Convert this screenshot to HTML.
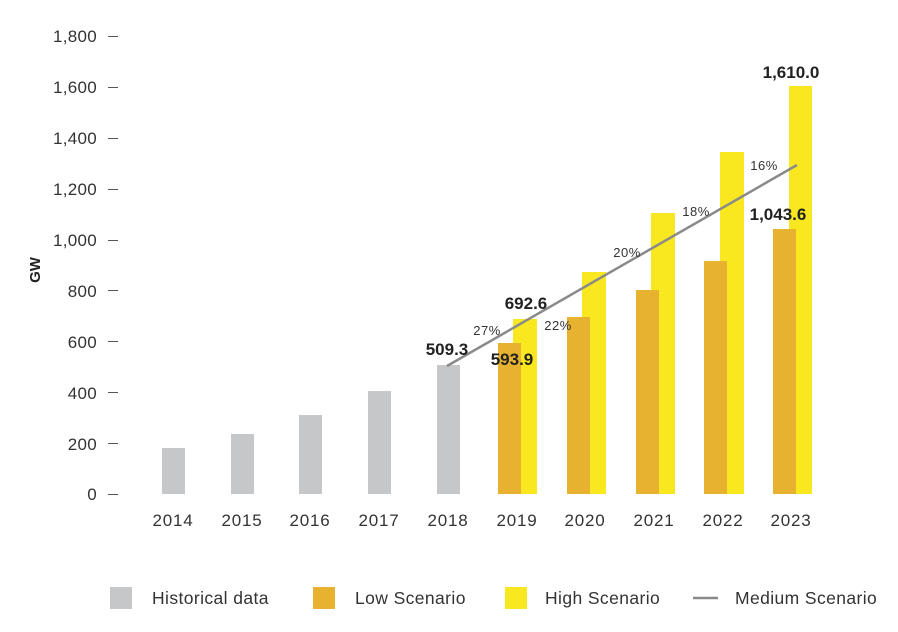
<!DOCTYPE html>
<html><head><style>body{margin:0;background:#fff}svg{display:block}text{font-family:"Liberation Sans",sans-serif}</style></head><body>
<svg width="898" height="632" viewBox="0 0 898 632">
<g font-size="17" fill="#333" text-anchor="end" letter-spacing="0.3">
<text x="97" y="42">1,800</text><text x="97" y="93">1,600</text><text x="97" y="144">1,400</text><text x="97" y="195">1,200</text><text x="97" y="246">1,000</text><text x="97" y="297">800</text><text x="97" y="348">600</text><text x="97" y="399">400</text><text x="97" y="450">200</text><text x="97" y="500">0</text>
</g>
<g stroke="#555" stroke-width="1">
<line x1="108" x2="118" y1="36.5" y2="36.5"/><line x1="108" x2="118" y1="87.5" y2="87.5"/><line x1="108" x2="118" y1="138.5" y2="138.5"/><line x1="108" x2="118" y1="189.5" y2="189.5"/><line x1="108" x2="118" y1="240.5" y2="240.5"/><line x1="108" x2="118" y1="290.5" y2="290.5"/><line x1="108" x2="118" y1="341.5" y2="341.5"/><line x1="108" x2="118" y1="392.5" y2="392.5"/><line x1="108" x2="118" y1="443.5" y2="443.5"/><line x1="108" x2="118" y1="494.5" y2="494.5"/>
</g>
<text x="40" y="270" font-size="15" font-weight="bold" fill="#222" transform="rotate(-90 40 270)" text-anchor="middle">GW</text>
<g fill="#c6c7c9">
<rect x="162" y="448" width="23" height="46"/><rect x="231" y="434" width="23" height="60"/><rect x="299" y="415" width="23" height="79"/><rect x="368" y="391" width="23" height="103"/><rect x="437" y="365" width="23" height="129"/>
</g>
<g fill="#f9e81f">
<rect x="513" y="319" width="24" height="175"/><rect x="582" y="272" width="24" height="222"/><rect x="651" y="213" width="24" height="281"/><rect x="720" y="152" width="24" height="342"/><rect x="789" y="86" width="23" height="408"/>
</g>
<g fill="#e7b22f">
<rect x="498" y="343" width="23" height="151"/><rect x="567" y="317" width="23" height="177"/><rect x="636" y="290" width="23" height="204"/><rect x="704" y="261" width="23" height="233"/><rect x="773" y="229" width="23" height="265"/>
</g>
<line x1="447" y1="366" x2="797" y2="165" stroke="#8a8a8a" stroke-width="2.5"/>
<g font-size="17" fill="#333" text-anchor="middle" letter-spacing="0.8">
<text x="173" y="526">2014</text><text x="242" y="526">2015</text><text x="310" y="526">2016</text><text x="379" y="526">2017</text><text x="448" y="526">2018</text><text x="517" y="526">2019</text><text x="585" y="526">2020</text><text x="654" y="526">2021</text><text x="723" y="526">2022</text><text x="791" y="526">2023</text>
</g>
<g font-size="17" font-weight="bold" fill="#222" text-anchor="middle">
<text x="447" y="355">509.3</text><text x="526" y="309">692.6</text><text x="512" y="365">593.9</text><text x="791" y="78">1,610.0</text><text x="778" y="220">1,043.6</text>
</g>
<g font-size="13" fill="#333" text-anchor="middle" letter-spacing="0.5">
<text x="487" y="335">27%</text><text x="558" y="330">22%</text><text x="627" y="257">20%</text><text x="696" y="216">18%</text><text x="764" y="170">16%</text>
</g>
<rect x="110" y="587" width="22" height="22" fill="#c6c7c9"/>
<rect x="313" y="587" width="22" height="22" fill="#e7b22f"/>
<rect x="505" y="587" width="22" height="22" fill="#f9e81f"/>
<line x1="693" y1="598" x2="718" y2="598" stroke="#8a8a8a" stroke-width="2.5"/>
<g font-size="17.5" fill="#333" letter-spacing="0.4">
<text x="152" y="604">Historical data</text><text x="355" y="604">Low Scenario</text><text x="545" y="604">High Scenario</text><text x="735" y="604">Medium Scenario</text>
</g>
</svg>
</body></html>
